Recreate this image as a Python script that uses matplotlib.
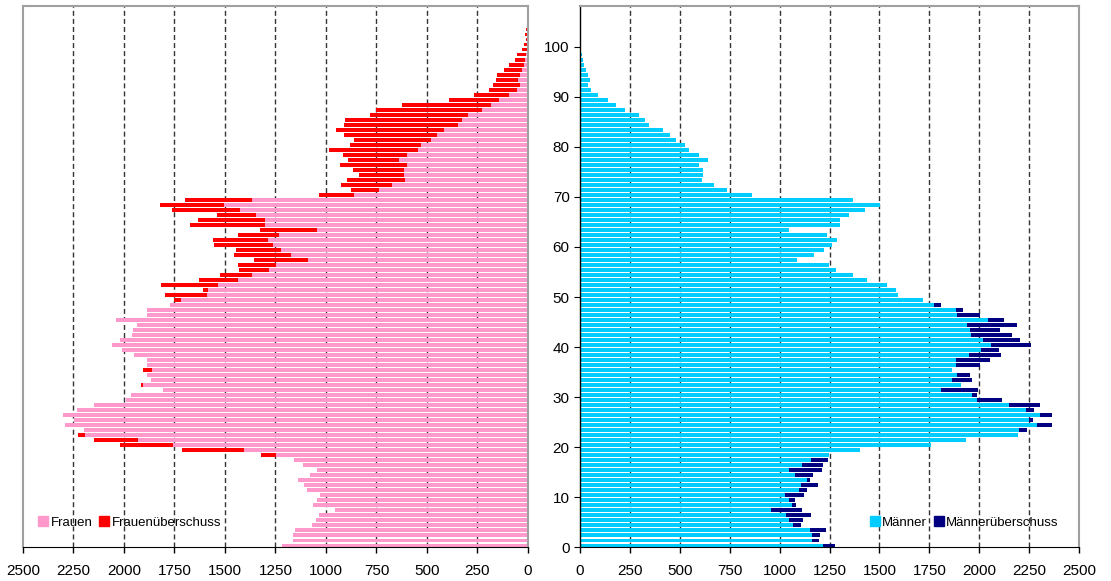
import numpy as np
import matplotlib.pyplot as plt
from matplotlib.patches import Patch

plt.rcParams['font.family'] = ['Liberation Sans', 'DejaVu Sans']

ages = np.arange(108)

# Frauen je Altersjahr 0..107
frauen = [1217, 1163, 1163, 1151, 1067, 1049, 1034, 957, 1064, 1046,
          1029, 1095, 1109, 1137, 1079, 1046, 1113, 1158, 1323, 1714,
          2019, 2149, 2227, 2199, 2291, 2247, 2303, 2232, 2149, 1991,
          1966, 1808, 1915, 1864, 1887, 1907, 1884, 1886, 1948, 2009,
          2060, 2019, 1961, 1956, 1937, 2042, 1887, 1884, 1773, 1752,
          1798, 1610, 1816, 1628, 1526, 1432, 1438, 1356, 1455, 1447,
          1552, 1557, 1437, 1325, 1673, 1636, 1541, 1762, 1824, 1696,
          1034, 874, 927, 897, 838, 866, 932, 892, 917, 985,
          882, 862, 913, 952, 912, 906, 782, 751, 625, 392,
          269, 195, 173, 157, 155, 120, 92, 66, 56, 31,
          20, 12, 13, 11, 6, 0, 0, 5]

# Maenner je Altersjahr 0..107
maenner = [1276, 1197, 1202, 1233, 1107, 1118, 1159, 1111, 1080, 1077,
           1123, 1138, 1190, 1154, 1167, 1211, 1217, 1242, 1245, 1404,
           1758, 1932, 2193, 2238, 2367, 2272, 2365, 2277, 2303, 2112,
           1990, 1996, 1908, 1963, 1956, 1862, 2005, 2053, 2109, 2100,
           2258, 2204, 2163, 2105, 2188, 2125, 2005, 1920, 1809, 1718,
           1591, 1584, 1536, 1438, 1368, 1282, 1249, 1087, 1172, 1223,
           1260, 1285, 1235, 1046, 1303, 1303, 1346, 1428, 1503, 1368,
           861, 735, 672, 610, 615, 615, 598, 639, 597, 545,
           528, 480, 450, 414, 346, 325, 295, 227, 181, 141,
           92, 55, 38, 49, 40, 30, 18, 14, 10, 5,
           5, 2, 2, 0, 0, 0, 0, 0]

frauen = np.array(frauen)
maenner = np.array(maenner)
basis = np.minimum(frauen, maenner)
f_ueber = np.maximum(frauen - maenner, 0)
m_ueber = np.maximum(maenner - frauen, 0)

x_ticks = np.arange(0, 2501, 250)

fig = plt.figure(figsize=(11.11, 5.81), dpi=100)
ax1 = fig.add_axes([0.0207, 0.0577, 0.4545, 0.9312])
ax2 = fig.add_axes([0.5221, 0.0577, 0.4491, 0.9312])

y = ages + 0.4
h = 0.78

ax1.barh(y, basis, height=h, color='#FF99CC', zorder=2)
ax1.barh(y, f_ueber, left=basis, height=h, color='#FF0000', zorder=2)
ax2.barh(y, basis, height=h, color='#00CCFF', zorder=2)
ax2.barh(y, m_ueber, left=basis, height=h, color='#000080', zorder=2)

for ax in (ax1, ax2):
    ax.set_ylim(0, 108)
    ax.set_xticks(x_ticks)
    ax.tick_params(axis='x', direction='out', length=4, width=1, labelsize=11, pad=8)
    for v in range(250, 2500, 250):
        ax.axvline(v, color='#333333', lw=1, dashes=(3.6, 2.2), zorder=1)
    for s in ('top', 'left', 'right'):
        ax.spines[s].set_color('#A0A0A0')
        ax.spines[s].set_linewidth(1.5)
    ax.spines['bottom'].set_color('black')

ax1.set_xlim(2500, 0)
ax1.tick_params(axis='y', left=False, labelleft=False)

ax2.set_xlim(0, 2500)
ax2.set_yticks(np.arange(0, 101, 10))
ax2.tick_params(axis='y', direction='out', length=4.5, labelsize=11, pad=3)
ax2.spines['left'].set_color('black')
ax2.spines['left'].set_linewidth(1)

ax1.legend(handles=[Patch(color='#FF99CC', label='Frauen'),
                    Patch(color='#FF0000', label='Frauenüberschuss')],
           loc='center left', bbox_to_anchor=(0.02, 0.046), ncol=2, frameon=False,
           fontsize=9.5, handlelength=0.75, handleheight=0.75, handletextpad=0.2,
           columnspacing=0.5, borderaxespad=0)
ax2.legend(handles=[Patch(color='#00CCFF', label='Männer'),
                    Patch(color='#000080', label='Männerüberschuss')],
           loc='center right', bbox_to_anchor=(0.97, 0.046), ncol=2, frameon=False,
           fontsize=9.5, handlelength=0.75, handleheight=0.75, handletextpad=0.2,
           columnspacing=0.5, borderaxespad=0)

fig.savefig('out.png', dpi=100)
